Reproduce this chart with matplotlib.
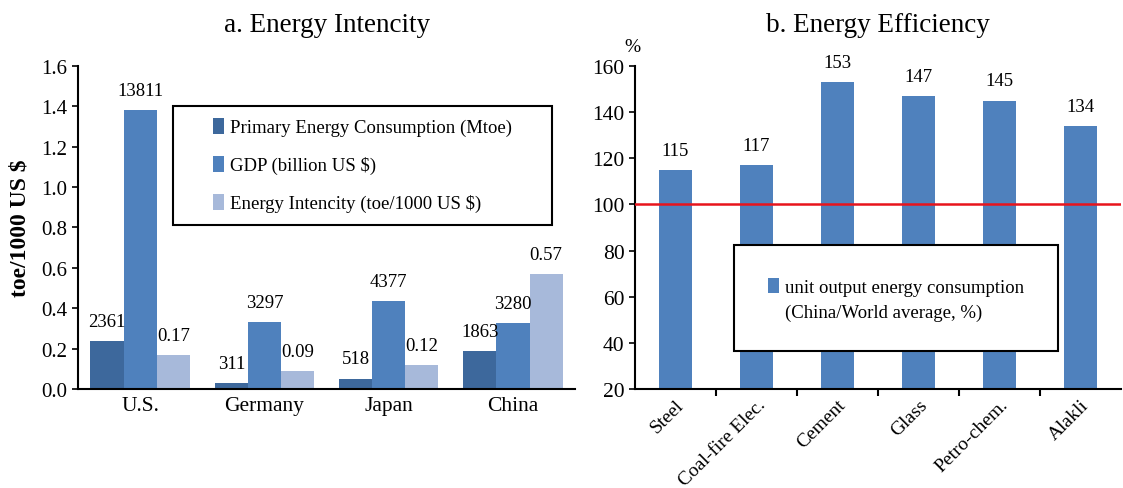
import numpy as np
import matplotlib
matplotlib.use("Agg")
import matplotlib.pyplot as plt
from matplotlib.patches import Rectangle

plt.rcParams['font.family'] = ['Liberation Serif', 'DejaVu Serif']

# a. Energy Intencity
countries = ["U.S.", "Germany", "Japan", "China"]
energy_mtoe = [2361, 311, 518, 1863]
gdp_billion = [13811, 3297, 4377, 3280]
intensity = [0.17, 0.09, 0.12, 0.57]

# b. Energy Efficiency
industries = ["Steel", "Coal-fire Elec.", "Cement", "Glass", "Petro-chem.", "Alakli"]
efficiency = [115, 117, 153, 147, 145, 134]

c_dark = "#3d689c"
c_mid = "#4f81bd"
c_light = "#a7b9da"

fig = plt.figure(figsize=(11.23, 4.89), dpi=100)
ax1 = fig.add_axes([0.0695, 0.2025, 0.4426, 0.6605])
ax2 = fig.add_axes([0.5654, 0.2025, 0.4328, 0.6605])


def legend_box(ax, x0, y0, w, h):
    # plain black frame with white fill, drawn under the legend entries
    r = Rectangle((x0, y0), w, h, transform=ax.transAxes, facecolor="white",
                  edgecolor="black", linewidth=1.5, zorder=4, clip_on=False)
    ax.add_patch(r)


# ---- left chart ----
x = np.arange(len(countries))
w = 0.8 / 3
series = [
    (np.array(energy_mtoe) / 10000, [str(v) for v in energy_mtoe], c_dark,
     "Primary Energy Consumption (Mtoe)"),
    (np.array(gdp_billion) / 10000, [str(v) for v in gdp_billion], c_mid,
     "GDP (billion US $)"),
    (np.array(intensity), ["%.2f" % v for v in intensity], c_light,
     "Energy Intencity (toe/1000 US $)"),
]
for i, (h, labels, col, name) in enumerate(series):
    pos = x + (i - 1) * w
    ax1.bar(pos, h, w, color=col, label=name)
    for px, py, lab in zip(pos, h, labels):
        ax1.annotate(lab, (px, py), xytext=(0, 8), textcoords="offset points",
                     ha="center", va="bottom", fontsize=13.5)

ax1.set_xlim(-0.5, 3.5)
ax1.set_ylim(0, 1.6)
ax1.set_yticks(np.arange(0, 1.61, 0.2))
ax1.set_yticklabels(["%.1f" % v for v in np.arange(0, 1.61, 0.2)])
ax1.set_xticks(x)
ax1.set_xticklabels(countries)
ax1.tick_params(axis="x", length=0, labelsize=15.5, pad=5)
ax1.tick_params(axis="y", direction="out", length=4, width=1.2, labelsize=15)
ax1.spines["top"].set_visible(False)
ax1.spines["right"].set_visible(False)
for s in ("left", "bottom"):
    ax1.spines[s].set_linewidth(1.5)
ax1.set_ylabel("toe/1000 US $", fontsize=17, fontweight="bold", labelpad=8)
ax1.set_title("a. Energy Intencity", fontsize=19.5, pad=25)

legend_box(ax1, 0.191, 0.508, 0.763, 0.368)
leg1 = ax1.legend(loc="center", bbox_to_anchor=(0.572, 0.693), fontsize=13.5,
                  frameon=False, handlelength=0.6, handleheight=0.9,
                  handletextpad=0.3, labelspacing=1.05, borderpad=0)
leg1.set_zorder(5)

# ---- right chart ----
xi = np.arange(len(industries))
ax2.bar(xi, efficiency, 0.4, color=c_mid,
        label="unit output energy consumption", zorder=2)
for px, py in zip(xi, efficiency):
    ax2.annotate(str(py), (px, py), xytext=(0, 8), textcoords="offset points",
                 ha="center", va="bottom", fontsize=13.5)
ax2.axhline(100, color="#e8141c", linewidth=1.8, zorder=3)
ax2.set_xlim(-0.5, 5.5)
ax2.set_ylim(20, 160)
ax2.set_yticks(range(20, 161, 20))
ax2.set_xticks(xi)
ax2.set_xticklabels(industries, rotation=45, ha="right", rotation_mode="anchor")
ax2.set_xticks(np.arange(0.5, 5.5, 1), minor=True)
ax2.tick_params(axis="x", which="major", length=0, labelsize=14, pad=5)
ax2.tick_params(axis="x", which="minor", direction="out", length=5, width=1.5)
ax2.tick_params(axis="y", direction="out", length=4, width=1.2, labelsize=15.5)
ax2.spines["top"].set_visible(False)
ax2.spines["right"].set_visible(False)
for s in ("left", "bottom"):
    ax2.spines[s].set_linewidth(1.5)
ax2.set_title("b. Energy Efficiency", fontsize=19.5, pad=25)
ax2.text(-0.005, 1.035, "%", transform=ax2.transAxes, fontsize=14,
         ha="center", va="bottom")

legend_box(ax2, 0.204, 0.118, 0.667, 0.328)
leg2 = ax2.legend(loc="center", bbox_to_anchor=(0.537, 0.316), fontsize=13.5,
                  frameon=False, handlelength=0.6, handleheight=0.9,
                  handletextpad=0.3, borderpad=0)
leg2.set_zorder(5)

# second line of the legend label, lined up under the first one
fig.canvas.draw()
tb = leg2.get_texts()[0].get_window_extent()
tx = ax2.transAxes.inverted().transform((tb.x0, tb.y0))[0]
ax2.text(tx, 0.238, "(China/World average, %)", transform=ax2.transAxes,
         fontsize=13.5, ha="left", va="center", zorder=6)

fig.savefig("out.png", dpi=100)
